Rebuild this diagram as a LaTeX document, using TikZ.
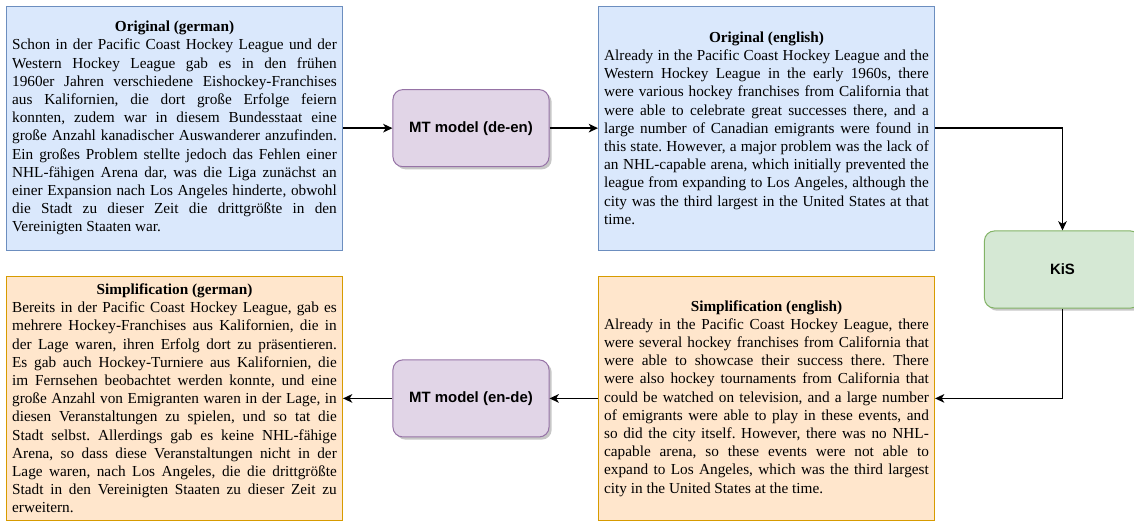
\documentclass[tikz,border=0pt]{standalone}
\usepackage{fontspec}
\setmainfont{Liberation Serif}
\setsansfont{Liberation Sans}
\usetikzlibrary{arrows.meta, positioning, shadows}
\definecolor{origBlue}{RGB}{108,142,191}
\definecolor{softBlue}{RGB}{218,232,252}
\definecolor{simpOrange}{RGB}{215,155,0}
\definecolor{softOrange}{RGB}{255,230,204}
\definecolor{mtPurple}{RGB}{150,115,166}
\definecolor{softPurple}{RGB}{225,213,231}
\definecolor{kisGreen}{RGB}{130,179,102}
\definecolor{softGreen}{RGB}{213,232,212}
\setlength{\parindent}{0pt}
\frenchspacing
\tolerance=9999
\hyphenpenalty=10000
\hbadness=10000
\newcommand{\boxtitle}[1]{{\centering\bfseries #1\par}}
\tikzset{
    textbox/.style={
        rectangle,
        line width=0.75pt,
        align=justify,
        text width=8.59cm,
        inner xsep=0.15cm,
        minimum width=8.89cm,
        minimum height=6.45cm,
        font=\fontsize{11.5}{13.7}\selectfont
    },
    origbox/.style={textbox, draw=origBlue, fill=softBlue},
    simpbox/.style={textbox, draw=simpOrange, fill=softOrange},
    modelbox/.style={
        rectangle,
        rounded corners=7.5pt,
        line width=0.75pt,
        align=center,
        minimum width=4.13cm,
        minimum height=2.04cm,
        font=\sffamily\bfseries\fontsize{11.25}{13.5}\selectfont,
        drop shadow={shadow xshift=2pt, shadow yshift=-2pt, fill=black, opacity=0.22}
    },
    mtbox/.style={modelbox, draw=mtPurple, fill=softPurple},
    kisbox/.style={modelbox, draw=kisGreen, fill=softGreen},
    flowarrow/.style={-{Stealth[length=7pt, width=6.5pt, inset=2pt]}, line width=1pt, draw=black}
}
\begin{document}
\begin{tikzpicture}[x=1cm,y=1cm]
    \useasboundingbox (0,0) rectangle (30,-13.783);
    \node[origbox] (origde) at (4.616,-3.39) {\boxtitle{Original (german)}
        Schon in der Pacific Coast Hockey League und der \linebreak
        Western Hockey League gab es in den frühen \linebreak
        1960er Jahren verschiedene Eishockey-Franchises \linebreak
        aus Kalifornien, die dort große Erfolge feiern \linebreak
        konnten, zudem war in diesem Bundesstaat eine \linebreak
        große Anzahl kanadischer Auswanderer anzufinden. \linebreak
        Ein großes Problem stellte jedoch das Fehlen einer \linebreak
        NHL-fähigen Arena dar, was die Liga zunächst an \linebreak
        einer Expansion nach Los Angeles hinderte, obwohl \linebreak
        die Stadt zu dieser Zeit die drittgrößte in den \linebreak
        Vereinigten Staaten war.};
    \node[origbox] (origen) at (20.278,-3.39) {\boxtitle{Original (english)}
        Already in the Pacific Coast Hockey League and the \linebreak
        Western Hockey League in the early 1960s, there \linebreak
        were various hockey franchises from California that \linebreak
        were able to celebrate great successes there, and a \linebreak
        large number of Canadian emigrants were found in \linebreak
        this state. However, a major problem was the lack of \linebreak
        an NHL-capable arena, which initially prevented the \linebreak
        league from expanding to Los Angeles, although the \linebreak
        city was the third largest in the United States at that \linebreak
        time.};
    \node[simpbox] (simpde) at (4.616,-10.54) {\boxtitle{Simplification (german)}
        Bereits in der Pacific Coast Hockey League, gab es \linebreak
        mehrere Hockey-Franchises aus Kalifornien, die in \linebreak
        der Lage waren, ihren Erfolg dort zu präsentieren. \linebreak
        Es gab auch Hockey-Turniere aus Kalifornien, die \linebreak
        im Fernsehen beobachtet werden konnte, und eine \linebreak
        große Anzahl von Emigranten waren in der Lage, in \linebreak
        diesen Veranstaltungen zu spielen, und so tat die \linebreak
        Stadt selbst. Allerdings gab es keine NHL-fähige \linebreak
        Arena, so dass diese Veranstaltungen nicht in der \linebreak
        Lage waren, nach Los Angeles, die die drittgrößte \linebreak
        Stadt in den Vereinigten Staaten zu dieser Zeit zu \linebreak
        erweitern.};
    \node[simpbox] (simpen) at (20.278,-10.54) {\boxtitle{Simplification (english)}
        Already in the Pacific Coast Hockey League, there \linebreak
        were several hockey franchises from California that \linebreak
        were able to showcase their success there. There \linebreak
        were also hockey tournaments from California that \linebreak
        could be watched on television, and a large number \linebreak
        of emigrants were able to play in these events, and \linebreak
        so did the city itself. However, there was no NHL-\linebreak
        capable arena, so these events were not able to \linebreak
        expand to Los Angeles, which was the third largest \linebreak
        city in the United States at the time.};
    \node[mtbox] (deen) at (12.46,-3.39) {MT model (de-en)};
    \node[mtbox] (ende) at (12.46,-10.54) {MT model (en-de)};
    \node[kisbox] (kis) at (28.108,-7.13) {KiS};

    \draw[flowarrow] (origde.east) -- (deen.west);
    \draw[flowarrow] (deen.east) -- (origen.west);
    \draw[flowarrow] (origen.east) -| (kis.north);
    \draw[flowarrow] (kis.south) |- (simpen.east);
    \draw[flowarrow] (simpen.west) -- (ende.east);
    \draw[flowarrow] (ende.west) -- (simpde.east);
\end{tikzpicture}
\end{document}
